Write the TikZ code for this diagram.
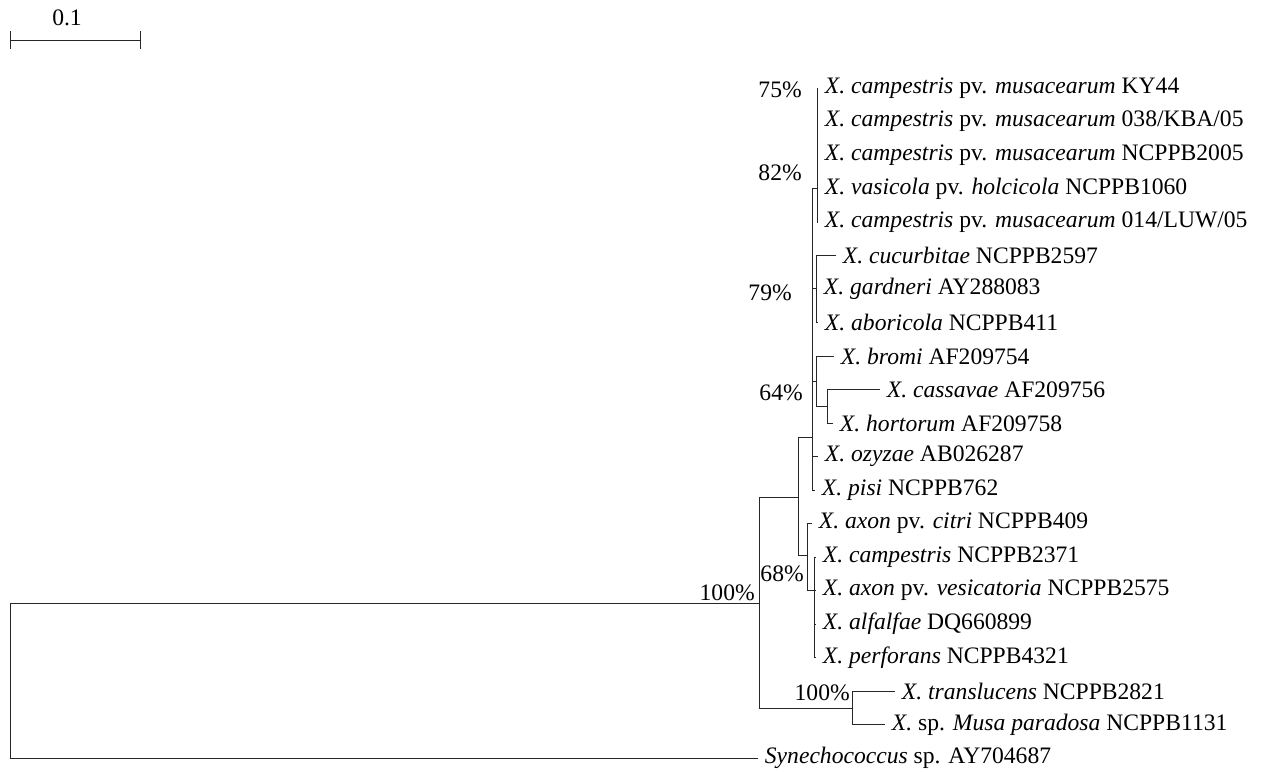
\documentclass[tikz,border=0pt]{standalone}
\usepackage{fontspec}
\setmainfont{Liberation Serif}
\usepackage{tikz}
\usetikzlibrary{positioning}

\begin{document}
\begin{tikzpicture}[x=0.75pt,y=-0.75pt,
  branch/.style={line width=0.75pt,draw=black!85},
  leaf/.style={anchor=west,inner xsep=5pt,inner ysep=0pt,
               font=\fontsize{17.7}{21}\selectfont},
  boot/.style={anchor=east,inner sep=0pt,font=\fontsize{17.7}{21}\selectfont}
]
\useasboundingbox (0,0) rectangle (1270,771);
% scale bar
\coordinate (sbL) at (10,40);
\coordinate (sbR) at (140,40);
\node[font=\fontsize{17.7}{21}\selectfont] (sbtxt) at (67,18) {0.1};
\draw[branch] (sbL) -- (sbR);
\draw[branch] ([yshift=6.75pt]sbL) -- ([yshift=-6.75pt]sbL);
\draw[branch] ([yshift=6.75pt]sbR) -- ([yshift=-6.75pt]sbR);
% internal nodes
\coordinate (root) at (10,603);
\coordinate (nA) at (759,603);
\coordinate (nB) at (798,497);
\coordinate (nC) at (812,437);
\coordinate (nD) at (817,188);
\coordinate (nG) at (816,288);
\coordinate (nH) at (816,381);
\coordinate (nI) at (827,406);
\coordinate (nJ) at (807,555);
\coordinate (nK) at (814,590);
\coordinate (nT) at (852,708);
% leaves
\node[leaf] (ky44) at (818,88) {\textit{X. campestris} pv. \textit{musacearum} KY44};
\node[leaf] (kba05) at (818,121.5) {\textit{X. campestris} pv. \textit{musacearum} 038/KBA/05};
\node[leaf] (nc2005) at (818,155) {\textit{X. campestris} pv. \textit{musacearum} NCPPB2005};
\node[leaf] (holci) at (818,188.5) {\textit{X. vasicola} pv. \textit{holcicola} NCPPB1060};
\node[leaf] (luw05) at (818,222) {\textit{X. campestris} pv. \textit{musacearum} 014/LUW/05};
\node[leaf] (cucur) at (836,255.5) {\textit{X. cucurbitae} NCPPB2597};
\node[leaf] (gard) at (817,289) {\textit{X. gardneri} AY288083};
\node[leaf] (abori) at (818,322.5) {\textit{X. aboricola} NCPPB411};
\node[leaf] (bromi) at (834,356) {\textit{X. bromi} AF209754};
\node[leaf] (cassa) at (880,389.5) {\textit{X. cassavae} AF209756};
\node[leaf] (horto) at (833,423) {\textit{X. hortorum} AF209758};
\node[leaf] (ozyz) at (818,456.5) {\textit{X. ozyzae} AB026287};
\node[leaf] (pisi) at (815,490) {\textit{X. pisi} NCPPB762};
\node[leaf] (citri) at (812,523.5) {\textit{X. axon} pv. \textit{citri} NCPPB409};
\node[leaf] (camp) at (816,557) {\textit{X. campestris} NCPPB2371};
\node[leaf] (vesic) at (816,590.5) {\textit{X. axon} pv. \textit{vesicatoria} NCPPB2575};
\node[leaf] (alfal) at (816,624) {\textit{X. alfalfae} DQ660899};
\node[leaf] (perfo) at (816,657.5) {\textit{X. perforans} NCPPB4321};
\node[leaf] (transl) at (895,691) {\textit{X. translucens} NCPPB2821};
\node[leaf] (musa) at (885,724.5) {\textit{X.} sp. \textit{Musa paradosa} NCPPB1131};
\node[leaf] (synech) at (758,758) {\textit{Synechococcus} sp. AY704687};
% branches
\draw[branch] (root) |- (nA);
\draw[branch] (root) |- (synech);
\draw[branch] (nA) |- (nB);
\draw[branch] (nA) |- (nT);
\draw[branch] (nB) |- (nC);
\draw[branch] (nB) |- (nJ);
\draw[branch] (nC) |- (nD);
\draw[branch] (nC) |- (nG);
\draw[branch] (nC) |- (nH);
\draw[branch] (nC) |- (ozyz);
\draw[branch] (nC) |- (pisi);
\draw[branch] (nD) |- (ky44);
\draw[branch] (nD) |- (kba05);
\draw[branch] (nD) |- (nc2005);
\draw[branch] (nD) |- (holci);
\draw[branch] (nD) |- (luw05);
\draw[branch] (nG) |- (cucur);
\draw[branch] (nG) |- (gard);
\draw[branch] (nG) |- (abori);
\draw[branch] (nH) |- (bromi);
\draw[branch] (nH) |- (nI);
\draw[branch] (nI) |- (cassa);
\draw[branch] (nI) |- (horto);
\draw[branch] (nJ) |- (citri);
\draw[branch] (nJ) |- (nK);
\draw[branch] (nK) |- (camp);
\draw[branch] (nK) |- (vesic);
\draw[branch] (nK) |- (alfal);
\draw[branch] (nK) |- (perfo);
\draw[branch] (nT) |- (transl);
\draw[branch] (nT) |- (musa);
% bootstrap values
\node[boot] (bs75) at (802,90) {75\%};
\node[boot] (bs82) at (802,173) {82\%};
\node[boot] (bs79) at (792,293) {79\%};
\node[boot] (bs64) at (803,393) {64\%};
\node[boot] (bs68) at (804,574) {68\%};
\node[boot] (bsA) at (755,593) {100\%};
\node[boot] (bsT) at (850,693) {100\%};
\end{tikzpicture}
\end{document}
